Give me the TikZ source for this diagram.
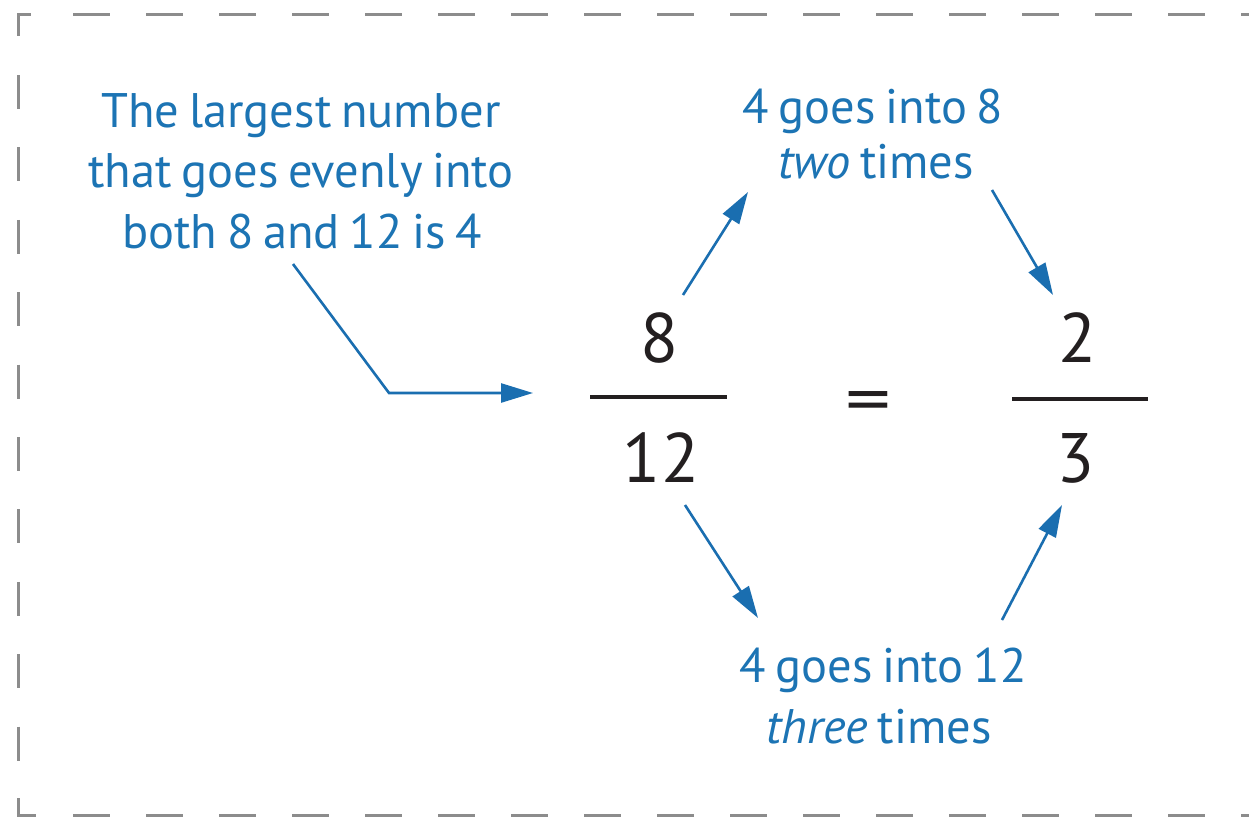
\documentclass[tikz,border=0pt]{standalone}
\usepackage{fontspec}
\setmainfont[WordSpace=0.75]{PT Sans}
\usetikzlibrary{arrows.meta}
\definecolor{txtblue}{RGB}{28,116,180}
\definecolor{arrblue}{RGB}{26,110,176}
\definecolor{ink}{RGB}{35,31,32}
\definecolor{framegray}{RGB}{140,140,140}
\begin{document}
\begin{tikzpicture}[x=1pt,y=-1pt,
  note/.style={text=txtblue, font=\fontsize{48.5}{58}\selectfont, inner sep=0pt, anchor=base},
  num/.style={text=ink, font=\fontsize{70}{70}\selectfont, inner sep=0pt, anchor=base},
  conn/.style={draw=arrblue, line width=2.6pt, -{Triangle[length=32pt,width=19pt]}},
  fracbar/.style={draw=ink, line width=4pt},
  border/.style={draw=framegray, line width=3pt}
]
\fill[white] (0,0) rectangle (1249,816);
\useasboundingbox (0,0) rectangle (1249,816);

% dashed frame
\draw[border] (18,36) -- (18,15) -- (31,15);
\draw[border, dash pattern=on 37pt off 36pt] (73,15) -- (1262,15);
\draw[border, dash pattern=on 34pt off 38.4pt] (18,75) -- (18,816);
\draw[border] (18,798) -- (18,815) -- (36,815);
\draw[border, dash pattern=on 37pt off 36pt] (73,815) -- (1262,815);

% left note
\node[note] (la1) at (301,127) {The largest number};
\node[note] (la2) at (301,187) {that goes evenly into};
\node[note] (la3) at (302,248) {both 8 and 12 is 4};

% top note
\node[note] (tb1) at (873,123) {4 goes into 8};
\node[note] (tb2) at (876,178) {\textit{two} times};

% bottom note
\node[note] (bc1) at (883,682) {4 goes into 12};
\node[note] (bc2) at (879,743) {\textit{three} times};

% fractions
\node[num] (n8) at (660,362) {8};
\node[num] (n12) at (661,482) {12};
\draw[fracbar] (590,397) -- (727,397);
\node[num, xscale=1.3] (eq) at (868,423) {=};
\node[num] (n2) at (1078,362) {2};
\node[num] (n3) at (1076,482) {3};
\draw[fracbar] (1012,399) -- (1148,399);

% connector ends
\coordinate (a1s) at (293,264);
\coordinate (a1k) at (389,393);
\coordinate (a1e) at (533,393);
\coordinate (a2s) at (683,295);
\coordinate (a2e) at (748,192);
\coordinate (a3s) at (992,190);
\coordinate (a3e) at (1053,295);
\coordinate (a4s) at (685,505);
\coordinate (a4e) at (758,618);
\coordinate (a5s) at (1002,620);
\coordinate (a5e) at (1062,505);

\draw[conn] (a1s) -- (a1k) -- (a1e);
\draw[conn] (a2s) -- (a2e);
\draw[conn] (a3s) -- (a3e);
\draw[conn] (a4s) -- (a4e);
\draw[conn] (a5s) -- (a5e);
\end{tikzpicture}
\end{document}
